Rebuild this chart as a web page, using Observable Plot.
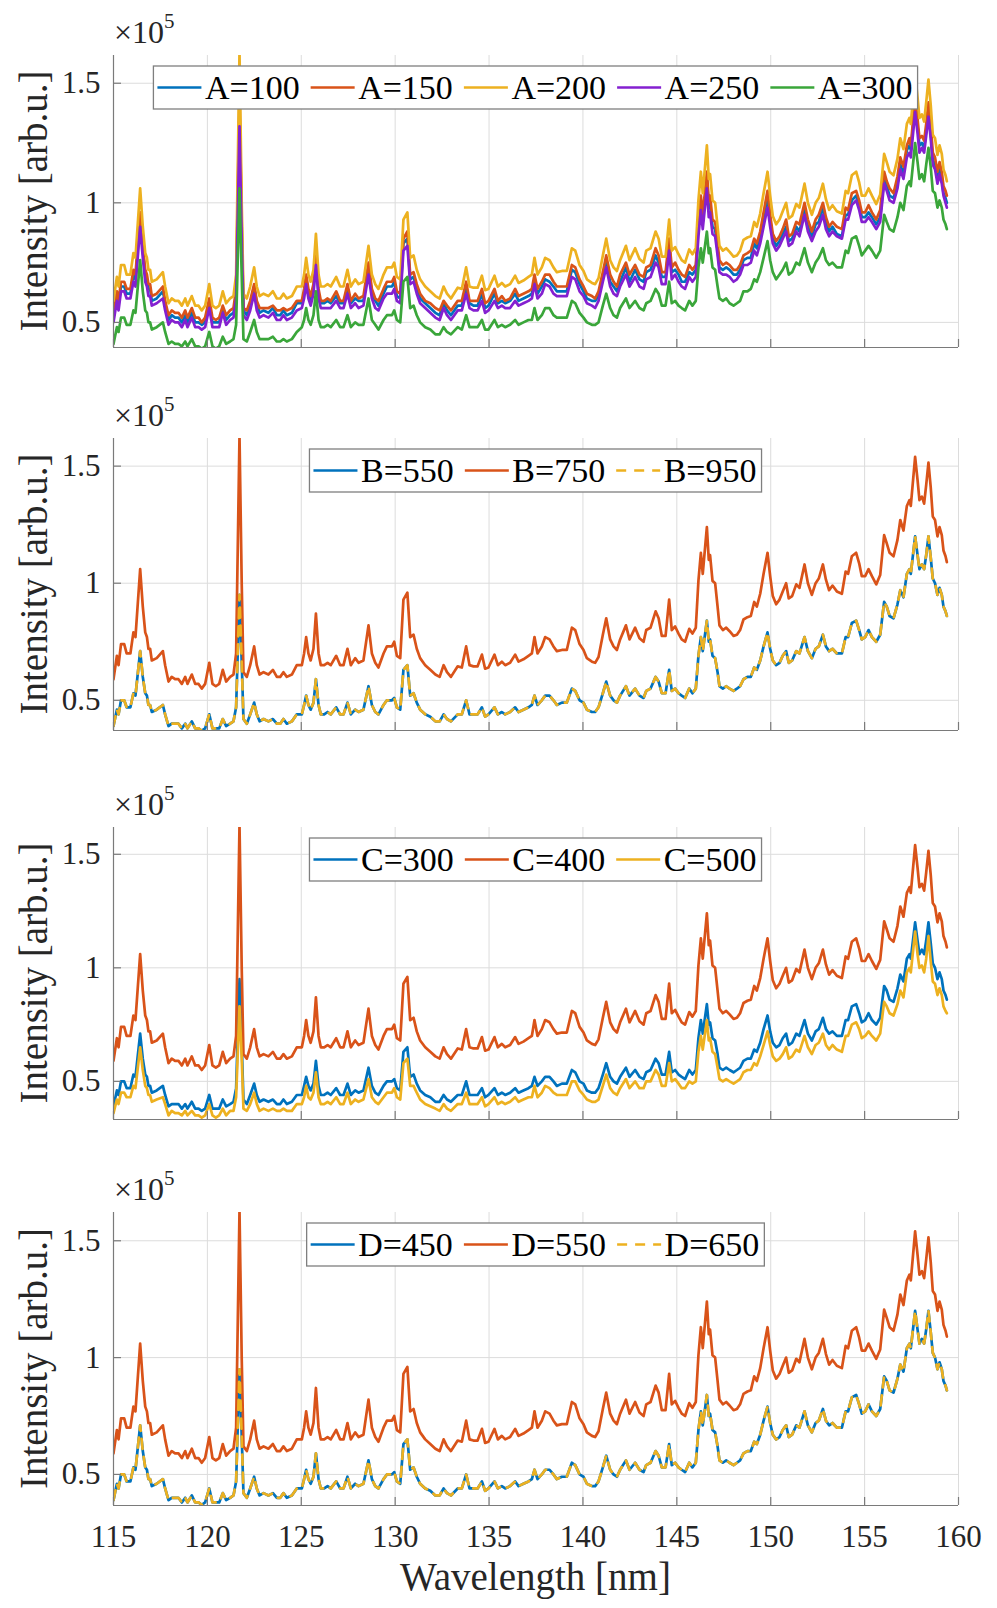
<!DOCTYPE html>
<html><head><meta charset="utf-8">
<script src="https://cdn.jsdelivr.net/npm/d3@7"></script>
<script src="https://cdn.jsdelivr.net/npm/@observablehq/plot@0.6"></script>
<style>
body{margin:0;background:#fff;}
#chart{position:relative;width:997px;height:1608px;background:#fff;overflow:hidden;}
#chart svg{position:absolute;left:0;}
#chart svg text{font-family:"Liberation Serif","Times New Roman",serif !important;font-variant:normal !important;font-variant-numeric:normal !important;}
</style></head><body><div id="chart"></div>
<script>
// Wavelength grid [nm]
const wavelength = [
115.00,115.18,115.27,115.40,115.57,115.70,115.90,116.06,116.17,116.42,
116.56,116.69,116.78,116.86,116.95,117.04,117.30,117.63,117.75,117.93,
118.10,118.28,118.46,118.64,118.82,118.94,119.17,119.35,119.53,119.70,
119.88,120.10,120.27,120.45,120.63,120.82,121.00,121.21,121.39,121.53,
121.71,121.83,121.92,122.10,122.28,122.49,122.63,122.78,122.99,123.25,
123.49,123.70,123.88,124.05,124.23,124.50,124.76,125.03,125.15,125.26,
125.38,125.50,125.65,125.78,125.92,126.04,126.22,126.40,126.57,126.86,
127.07,127.25,127.46,127.64,127.87,128.05,128.31,128.58,128.76,128.94,
129.11,129.38,129.56,129.83,129.95,130.09,130.27,130.44,130.65,130.80,
130.98,131.15,131.33,131.60,131.87,132.14,132.37,132.58,132.76,132.97,
133.33,133.55,133.78,133.96,134.17,134.39,134.62,134.79,134.97,135.29,
135.47,135.68,135.86,136.12,136.39,136.57,136.83,137.10,137.28,137.42,
137.58,137.81,137.99,138.22,138.43,138.61,138.88,139.14,139.41,139.59,
139.82,140.03,140.21,140.48,140.65,140.83,141.06,141.24,141.45,141.63,
141.81,141.98,142.29,142.48,142.78,143.01,143.23,143.37,143.60,143.87,
144.03,144.20,144.40,144.59,144.73,144.91,145.09,145.26,145.44,145.66,
145.83,146.01,146.15,146.28,146.38,146.60,146.70,146.77,146.90,147.04,
147.17,147.27,147.45,147.63,147.81,148.02,148.20,148.37,148.55,148.76,
148.94,149.12,149.26,149.44,149.62,149.83,149.97,150.11,150.29,150.47,
150.64,150.82,150.96,151.14,151.36,151.53,151.80,151.98,152.19,152.39,
152.56,152.78,152.94,153.11,153.29,153.52,153.79,153.99,154.12,154.32,
154.55,154.71,154.85,155.03,155.21,155.39,155.62,155.83,156.04,156.18,
156.33,156.54,156.75,156.90,157.07,157.25,157.39,157.46,157.69,157.82,
157.92,158.05,158.17,158.28,158.40,158.52,158.63,158.75,158.88,158.99,
159.11,159.20,159.31,159.38];

// Intensity (x1e5 arb.u.) — high spectrum: A=200, B=750, C=400, D=550
const specHigh = [
.59,.69,.65,.74,.74,.70,.70,.79,.77,1.06,
.90,.79,.77,.72,.72,.67,.68,.71,.65,.58,
.60,.59,.59,.57,.60,.57,.61,.57,.57,.55,
.57,.66,.57,.56,.57,.63,.58,.60,.61,.70,
1.63,.99,.62,.60,.65,.73,.65,.61,.62,.61,
.63,.60,.60,.62,.60,.61,.65,.65,.70,.77,
.70,.67,.72,.87,.70,.65,.65,.66,.65,.69,
.65,.65,.72,.65,.68,.66,.67,.82,.70,.66,
.64,.70,.73,.73,.75,.69,.68,.93,.96,.77,
.78,.72,.68,.65,.63,.61,.60,.65,.62,.60,
.645,.64,.73,.65,.645,.645,.695,.635,.64,.695,
.65,.665,.65,.66,.695,.665,.675,.69,.70,.77,
.70,.73,.77,.76,.73,.71,.715,.715,.81,.80,
.74,.715,.68,.665,.66,.685,.78,.85,.76,.73,
.715,.76,.82,.76,.81,.765,.75,.80,.81,.88,
.85,.775,.775,.93,.80,.815,.785,.76,.75,.805,
.785,.81,1.01,1.13,1.04,1.24,1.10,1.12,1.01,1.00,
.90,.82,.80,.81,.795,.775,.78,.80,.845,.855,
.86,.92,.90,.955,1.04,1.13,1.03,.945,.91,.93,
.965,1.00,.935,.945,.995,.98,1.08,1.00,.95,1.00,
1.02,1.08,1.015,.97,.99,.965,.955,1.05,1.04,1.115,
1.13,1.085,1.03,1.03,1.06,1.03,.995,1.035,1.205,1.17,
1.13,1.115,1.185,1.27,1.225,1.33,1.355,1.33,1.54,1.44,
1.355,1.37,1.34,1.42,1.515,1.41,1.285,1.27,1.20,1.24,
1.205,1.14,1.115,1.09];

// Low spectrum: B=550, B=950, C=300, D=450, D=650
const specLow = [
.39,.46,.44,.50,.50,.47,.47,.53,.52,.71,
.60,.53,.52,.48,.48,.45,.46,.48,.44,.39,
.40,.40,.40,.38,.40,.38,.41,.38,.38,.37,
.38,.44,.38,.38,.38,.42,.39,.40,.41,.47,
.95,.66,.42,.40,.44,.49,.44,.41,.42,.41,
.42,.40,.40,.42,.40,.41,.44,.44,.48,.52,
.48,.46,.49,.59,.48,.44,.44,.45,.44,.47,
.44,.44,.49,.44,.46,.45,.46,.56,.48,.45,
.44,.48,.50,.50,.51,.47,.46,.63,.65,.52,
.53,.49,.46,.44,.43,.41,.41,.44,.42,.41,
.44,.44,.50,.44,.44,.44,.47,.43,.44,.47,
.44,.45,.44,.45,.47,.45,.46,.47,.48,.52,
.48,.50,.52,.52,.50,.48,.49,.49,.55,.54,
.50,.49,.46,.45,.45,.47,.53,.58,.52,.50,
.49,.52,.56,.52,.55,.52,.51,.54,.55,.60,
.58,.53,.53,.63,.54,.55,.53,.52,.51,.55,
.53,.55,.69,.77,.71,.84,.75,.76,.69,.68,
.62,.56,.55,.56,.55,.54,.55,.56,.59,.60,
.60,.64,.63,.67,.73,.79,.72,.67,.65,.66,
.69,.71,.66,.67,.71,.70,.77,.71,.68,.72,
.73,.78,.73,.71,.72,.70,.70,.77,.77,.83,
.84,.80,.76,.77,.80,.77,.75,.78,.92,.90,
.86,.85,.91,.97,.94,1.04,1.06,1.04,1.20,1.12,
1.06,1.08,1.06,1.12,1.20,1.11,1.02,1.00,.95,.98,
.95,.90,.88,.86];

// C=500
const specC500 = [
.36,.42,.40,.45,.45,.43,.43,.48,.47,.65,
.55,.48,.47,.44,.44,.41,.42,.43,.40,.35,
.37,.36,.36,.35,.37,.35,.37,.35,.35,.34,
.35,.40,.35,.34,.35,.38,.35,.37,.37,.43,
.83,.60,.38,.37,.40,.45,.40,.37,.38,.37,
.38,.37,.37,.38,.37,.37,.40,.40,.43,.48,
.43,.42,.45,.54,.43,.40,.40,.41,.40,.43,
.40,.40,.45,.40,.42,.41,.42,.51,.43,.41,
.40,.43,.45,.45,.47,.43,.42,.58,.60,.48,
.48,.45,.42,.40,.39,.38,.37,.40,.38,.37,
.40,.40,.45,.40,.40,.40,.43,.39,.40,.43,
.40,.41,.40,.41,.43,.41,.42,.43,.43,.48,
.43,.45,.48,.47,.45,.44,.44,.44,.50,.50,
.46,.44,.42,.41,.41,.42,.48,.53,.47,.45,
.44,.47,.51,.47,.50,.47,.47,.50,.50,.55,
.53,.48,.48,.58,.50,.51,.49,.47,.47,.50,
.49,.50,.63,.70,.64,.77,.68,.69,.63,.62,
.56,.51,.50,.51,.50,.49,.50,.51,.54,.55,
.55,.58,.57,.61,.66,.72,.66,.61,.59,.60,
.62,.65,.60,.61,.64,.63,.70,.65,.62,.66,
.67,.71,.66,.64,.66,.64,.63,.70,.70,.75,
.76,.73,.69,.70,.72,.70,.68,.71,.85,.83,
.80,.79,.84,.90,.87,.98,1.00,.98,1.16,1.06,
1.00,1.01,.98,1.04,1.14,1.03,.94,.93,.88,.91,
.88,.83,.81,.80];

// A=100
const specA100 = [
.52,.61,.58,.65,.65,.62,.62,.70,.68,.94,
.80,.70,.68,.64,.64,.59,.60,.63,.58,.51,
.53,.52,.52,.50,.53,.50,.54,.50,.50,.49,
.50,.58,.50,.50,.50,.56,.51,.53,.54,.62,
1.40,.88,.55,.53,.58,.65,.58,.54,.55,.54,
.56,.53,.53,.55,.53,.54,.58,.58,.62,.68,
.62,.59,.64,.77,.62,.58,.58,.59,.58,.61,
.58,.58,.64,.58,.60,.59,.59,.73,.62,.59,
.57,.62,.65,.65,.67,.61,.60,.83,.85,.68,
.69,.64,.60,.58,.56,.54,.53,.58,.55,.53,
.57,.57,.65,.58,.57,.57,.62,.56,.57,.62,
.58,.59,.58,.59,.62,.59,.60,.61,.62,.68,
.62,.65,.68,.67,.65,.63,.63,.63,.72,.71,
.66,.63,.60,.59,.59,.61,.69,.75,.67,.65,
.63,.67,.73,.67,.72,.68,.67,.71,.72,.78,
.75,.69,.69,.83,.71,.72,.70,.67,.67,.71,
.70,.72,.90,1.00,.92,1.10,.98,.99,.90,.89,
.80,.73,.72,.73,.72,.70,.70,.72,.76,.77,
.77,.83,.81,.86,.94,1.02,.93,.85,.82,.84,
.87,.90,.84,.85,.90,.88,.97,.90,.86,.91,
.92,.98,.92,.88,.90,.87,.86,.95,.95,1.01,
1.03,.99,.94,.94,.96,.94,.91,.94,1.10,1.07,
1.03,1.02,1.08,1.16,1.12,1.22,1.24,1.22,1.41,1.32,
1.24,1.25,1.23,1.30,1.39,1.29,1.18,1.16,1.10,1.14,
1.10,1.04,1.02,1.00];

// A=150
const specA150 = [
.54,.63,.59,.67,.67,.64,.64,.72,.70,.96,
.82,.72,.70,.66,.66,.61,.62,.65,.59,.53,
.55,.54,.54,.52,.55,.52,.56,.52,.52,.50,
.52,.60,.52,.51,.52,.57,.53,.55,.56,.64,
1.45,.90,.56,.55,.59,.66,.59,.56,.56,.56,
.57,.55,.55,.56,.55,.56,.59,.59,.64,.70,
.64,.61,.66,.80,.64,.59,.59,.60,.59,.63,
.59,.59,.66,.59,.62,.60,.61,.75,.64,.60,
.59,.64,.67,.67,.69,.63,.62,.85,.88,.70,
.71,.66,.62,.59,.58,.56,.55,.59,.57,.55,
.59,.59,.67,.59,.59,.59,.64,.58,.59,.64,
.59,.61,.59,.60,.64,.61,.62,.63,.64,.70,
.64,.67,.70,.70,.67,.65,.65,.65,.74,.73,
.68,.65,.62,.61,.60,.63,.71,.78,.70,.67,
.65,.70,.75,.70,.74,.70,.69,.73,.74,.81,
.78,.71,.71,.85,.73,.75,.72,.70,.69,.74,
.72,.74,.92,1.03,.95,1.13,1.01,1.03,.93,.92,
.83,.76,.74,.75,.74,.72,.72,.74,.78,.79,
.80,.85,.83,.88,.96,1.05,.95,.87,.84,.86,
.89,.93,.86,.87,.92,.91,1.00,.93,.88,.93,
.95,1.00,.94,.90,.92,.90,.89,.98,.97,1.04,
1.05,1.01,.96,.96,.99,.96,.93,.97,1.13,1.09,
1.06,1.04,1.11,1.19,1.15,1.24,1.27,1.24,1.44,1.35,
1.27,1.28,1.26,1.33,1.42,1.33,1.21,1.19,1.13,1.17,
1.13,1.07,1.05,1.03];

// A=250
const specA250 = [
.50,.59,.55,.63,.63,.60,.60,.67,.65,.90,
.77,.67,.65,.61,.61,.57,.58,.60,.55,.49,
.51,.50,.50,.48,.51,.48,.52,.48,.48,.47,
.48,.56,.48,.48,.48,.54,.49,.51,.52,.60,
1.32,.84,.53,.51,.55,.62,.55,.52,.53,.52,
.54,.51,.51,.53,.51,.52,.55,.56,.60,.66,
.60,.57,.62,.74,.60,.56,.56,.56,.56,.59,
.56,.56,.62,.56,.58,.56,.57,.70,.60,.56,
.55,.60,.62,.62,.64,.59,.58,.80,.82,.66,
.67,.62,.58,.56,.54,.52,.51,.56,.53,.51,
.55,.55,.62,.56,.55,.55,.59,.54,.55,.59,
.56,.57,.56,.56,.59,.57,.58,.59,.60,.66,
.60,.62,.66,.65,.62,.61,.61,.61,.69,.68,
.63,.61,.58,.57,.56,.59,.67,.73,.65,.62,
.61,.65,.70,.65,.69,.65,.64,.68,.69,.75,
.73,.66,.66,.80,.68,.70,.67,.65,.64,.69,
.67,.69,.86,.97,.89,1.06,.94,.96,.87,.86,
.78,.71,.70,.70,.69,.67,.68,.70,.74,.74,
.75,.80,.78,.83,.90,.98,.90,.83,.80,.82,
.85,.88,.82,.83,.88,.86,.95,.88,.84,.88,
.90,.95,.89,.86,.88,.86,.85,.93,.93,.99,
1.01,.97,.92,.92,.94,.92,.89,.92,1.08,1.05,
1.01,1.00,1.06,1.14,1.10,1.19,1.21,1.19,1.38,1.29,
1.21,1.23,1.21,1.28,1.36,1.27,1.16,1.14,1.08,1.12,
1.08,1.03,1.00,.98];

// A=300
const specA300 = [
.41,.48,.46,.52,.52,.49,.49,.55,.54,.76,
.63,.55,.54,.50,.50,.47,.48,.50,.46,.41,
.42,.41,.41,.40,.42,.40,.43,.40,.40,.39,
.40,.46,.40,.39,.40,.44,.41,.42,.43,.49,
1.06,.69,.43,.42,.46,.51,.46,.43,.43,.43,
.44,.42,.42,.43,.42,.43,.46,.48,.51,.56,
.51,.49,.53,.63,.51,.48,.48,.49,.48,.51,
.48,.48,.53,.48,.50,.49,.49,.60,.51,.49,
.47,.51,.53,.53,.55,.51,.50,.67,.69,.56,
.57,.53,.50,.48,.47,.45,.45,.48,.46,.45,
.48,.47,.53,.48,.48,.48,.51,.47,.47,.51,
.48,.49,.48,.49,.51,.49,.50,.51,.51,.56,
.51,.53,.56,.56,.53,.52,.52,.52,.59,.58,
.54,.52,.50,.49,.49,.50,.57,.62,.56,.53,
.52,.56,.60,.56,.59,.56,.55,.58,.59,.64,
.62,.57,.57,.67,.58,.59,.57,.56,.55,.59,
.57,.59,.73,.81,.75,.88,.79,.81,.73,.72,
.65,.60,.59,.60,.58,.57,.58,.59,.63,.63,
.64,.68,.67,.71,.77,.84,.76,.71,.68,.70,
.72,.75,.70,.71,.75,.74,.81,.75,.71,.75,
.77,.81,.76,.74,.75,.73,.73,.80,.79,.85,
.86,.82,.78,.80,.82,.80,.77,.80,.95,.92,
.89,.88,.94,1.00,.97,1.07,1.09,1.07,1.25,1.17,
1.10,1.12,1.09,1.16,1.23,1.15,1.05,1.04,.98,1.01,
.98,.93,.91,.89];

const xTicks = [115,120,125,130,135,140,145,150,155,160];
const yTicks = [0.5,1,1.5];
const xDomain = [115,160];

const BLUE="#0072BD", ORANGE="#D95319", YELLOW="#EDB120", PURPLE="#8420D0", GREEN="#3AA63A";
const FONT = '"Liberation Serif","Times New Roman",serif';
const DASH = "10,8";

const panels = [
  {top:0, height:383, mb:36, yDomain:[0.395,1.616], series:[
    {label:"A=100", values:specA100, color:BLUE},
    {label:"A=150", values:specA150, color:ORANGE},
    {label:"A=200", values:specHigh, color:YELLOW},
    {label:"A=250", values:specA250, color:PURPLE},
    {label:"A=300", values:specA300, color:GREEN}]},
  {top:383, height:389, mb:42, yDomain:[0.371,1.618], series:[
    {label:"B=550", values:specLow, color:BLUE},
    {label:"B=750", values:specHigh, color:ORANGE},
    {label:"B=950", values:specLow, color:YELLOW, dash:DASH}]},
  {top:772, height:385, mb:38, yDomain:[0.332,1.618], series:[
    {label:"C=300", values:specLow, color:BLUE},
    {label:"C=400", values:specHigh, color:ORANGE},
    {label:"C=500", values:specC500, color:YELLOW}]},
  {top:1157, height:451, mb:103, yDomain:[0.367,1.621], xAxis:true, series:[
    {label:"D=450", values:specLow, color:BLUE},
    {label:"D=550", values:specHigh, color:ORANGE},
    {label:"D=650", values:specLow, color:YELLOW, dash:DASH}]}
];

const W = 997, ML = 113, MR = 39, MT = 55;
const container = document.getElementById("chart");
const AXIS = "#7a7a7a";
const TXT = "#262626";

panels.forEach(p => {
  const plotH = p.height - MT - p.mb;
  const plotW = W - ML - MR;
  const lines = p.series.map(s => Plot.line(
    wavelength.map((w,i) => ({w, v: s.values[i]})),
    {x:"w", y:"v", stroke:s.color, strokeWidth:2.7, strokeDasharray:s.dash, clip:true, strokeLinejoin:"round"}));
  const marks = [
    Plot.gridX(xTicks, {stroke:"#dcdcdc", strokeOpacity:1, strokeWidth:1}),
    Plot.gridY(yTicks, {stroke:"#dcdcdc", strokeOpacity:1, strokeWidth:1}),
    ...lines,
    Plot.ruleX([xDomain[0]], {stroke:AXIS, strokeWidth:1.2}),
    Plot.ruleY([p.yDomain[0]], {stroke:AXIS, strokeWidth:1.2}),
    Plot.tickX(xTicks, {x:d=>d, insetTop:plotH-8, stroke:AXIS, strokeWidth:1.2}),
    Plot.tickY(yTicks, {y:d=>d, insetRight:plotW-8, stroke:AXIS, strokeWidth:1.2}),
    // y tick labels
    Plot.text(yTicks, {y:d=>d, text:d=>String(d), frameAnchor:"left", dx:-13, textAnchor:"end",
      fontFamily:FONT, fontSize:31, fill:TXT})
  ];
  if (p.xAxis) marks.push(Plot.text(xTicks, {x:d=>d, text:d=>String(d), frameAnchor:"bottom",
      lineAnchor:"top", dy:19, fontFamily:FONT, fontSize:31, fill:TXT}));
  const svg = Plot.plot({
    width:W, height:p.height, marginLeft:ML, marginRight:MR, marginTop:MT, marginBottom:p.mb,
    x:{domain:xDomain, axis:null},
    y:{domain:p.yDomain, axis:null},
    style:{fontFamily:FONT, fontSize:"31px", color:TXT, background:"transparent", overflow:"visible"},
    marks
  });
  svg.style.top = p.top + "px";
  container.appendChild(svg);

  const sel = d3.select(svg);
  // ×10^5 multiplier
  const mult = sel.append("text").attr("x", ML+1).attr("y", MT-12).attr("text-anchor","start")
    .attr("font-family", FONT).attr("font-size", 32).attr("fill", TXT);
  mult.append("tspan").text("×10");
  mult.append("tspan").attr("dy", -15).attr("font-size", 21).text("5");
  // y label
  sel.append("text").attr("transform", `translate(47,${MT + plotH/2}) rotate(-90)`)
    .attr("text-anchor","middle").attr("font-family", FONT).attr("font-size", 39).attr("fill",TXT)
    .text("Intensity [arb.u.]");
  if (p.xAxis) {
    sel.append("text").attr("x", ML + plotW/2).attr("y", MT + plotH + 85)
      .attr("text-anchor","middle").attr("font-family", FONT).attr("font-size", 39).attr("fill",TXT)
      .text("Wavelength [nm]");
  }
  // legend
  const g = sel.append("g").attr("font-family", FONT).attr("font-size", 34).attr("fill", "#000")
    .attr("text-anchor","start");
  const rect = g.append("rect").attr("fill","#fff").attr("stroke","#7f7f7f").attr("stroke-width",1.3);
  const lineLen = 44, gapText = 3.5, gapEntry = 11, padL = 4, padR = 5, boxH = 43;
  const labels = p.series.map(s => g.append("text").attr("text-anchor","start").text(s.label));
  const widths = labels.map(t => t.node().getComputedTextLength());
  const total = padL + d3.sum(widths) + p.series.length*(lineLen+gapText) + gapEntry*(p.series.length-1) + padR;
  const left = ML + plotW/2 - total/2, top = MT + 11, cy = top + boxH/2;
  rect.attr("x", left).attr("y", top).attr("width", total).attr("height", boxH);
  let x = left + padL;
  p.series.forEach((s,i) => {
    g.append("line").attr("x1", x).attr("x2", x+lineLen).attr("y1", cy).attr("y2", cy)
      .attr("stroke", s.color).attr("stroke-width", 2.5).attr("stroke-dasharray", s.dash || null);
    x += lineLen + gapText;
    labels[i].attr("x", x).attr("y", cy).attr("dy", "0.34em");
    x += widths[i] + gapEntry;
  });
});
</script></body></html>
